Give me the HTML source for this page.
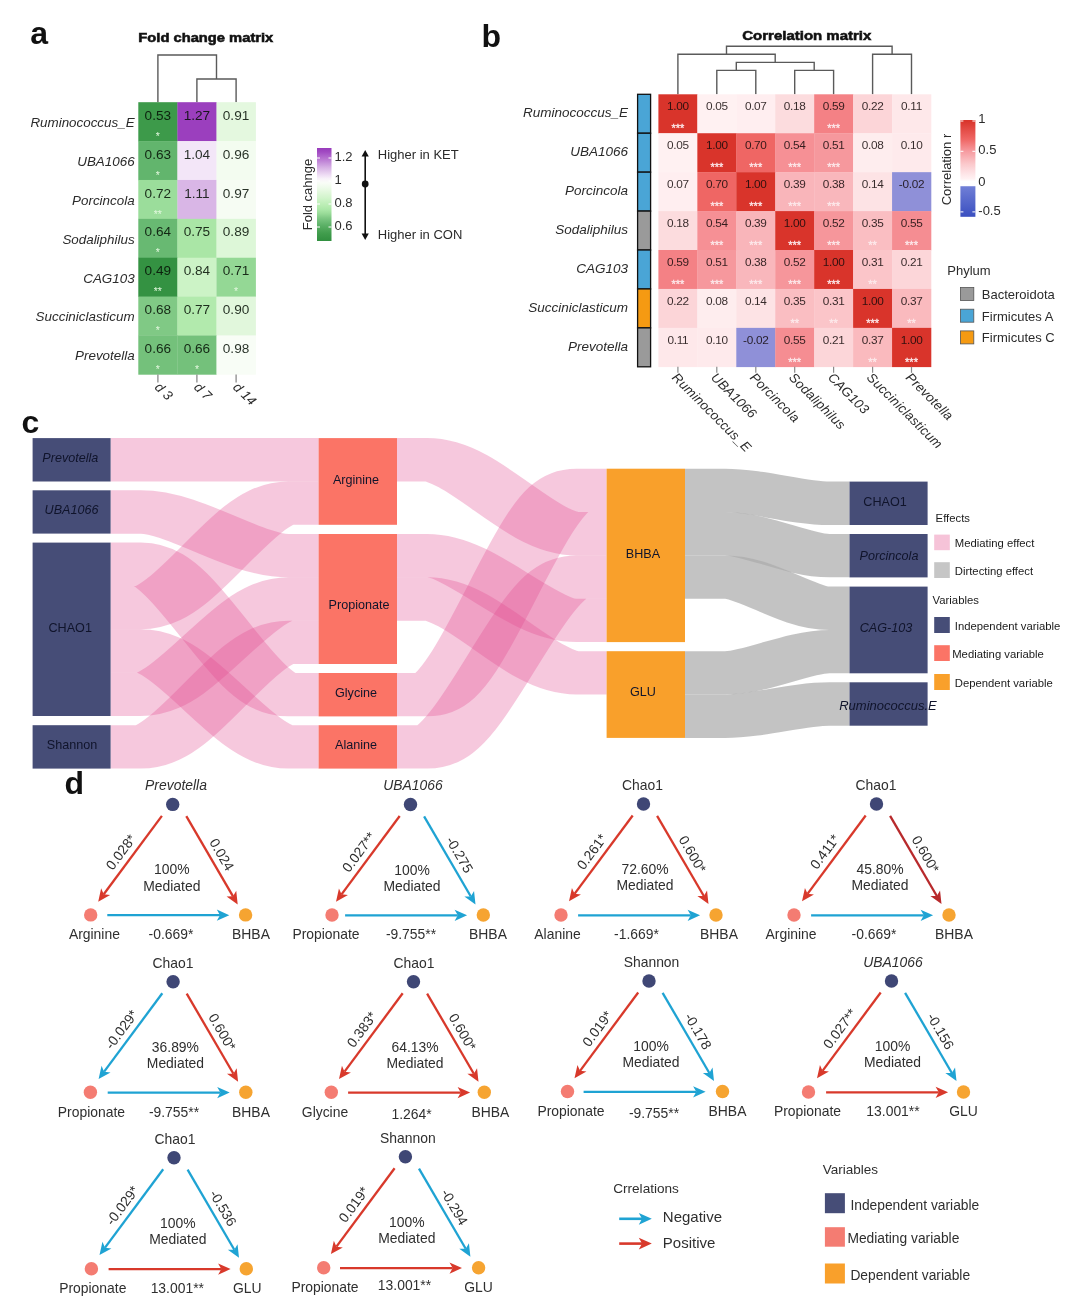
<!DOCTYPE html>
<html lang="en"><head><meta charset="utf-8"><title>Figure</title>
<style>html,body{margin:0;padding:0;background:#fff}svg{display:block}text{font-family:'Liberation Sans', Arial, Helvetica, sans-serif}</style></head><body>
<svg width="1080" height="1303" viewBox="0 0 1080 1303">
<rect width="1080" height="1303" fill="#fff"/>
<path transform="scale(1.66,1)" d="M66.63 459.78 H84.70 C111.45 459.78 147.11 459.78 173.86 459.78 H191.93" fill="none" stroke="rgba(224,72,141,0.30)" stroke-width="43.35"/>
<path transform="scale(1.66,1)" d="M66.63 511.98 H84.70 C111.45 511.98 147.11 555.67 173.86 555.67 H191.93" fill="none" stroke="rgba(224,72,141,0.30)" stroke-width="43.35"/>
<path transform="scale(1.66,1)" d="M66.63 564.28 H84.70 C111.45 564.28 147.11 694.67 173.86 694.67 H191.93" fill="none" stroke="rgba(224,72,141,0.30)" stroke-width="43.35"/>
<path transform="scale(1.66,1)" d="M66.63 607.62 H84.70 C111.45 607.62 147.11 503.13 173.86 503.13 H191.93" fill="none" stroke="rgba(224,72,141,0.30)" stroke-width="43.35"/>
<path transform="scale(1.66,1)" d="M66.63 650.98 H84.70 C111.45 650.98 147.11 746.88 173.86 746.88 H191.93" fill="none" stroke="rgba(224,72,141,0.30)" stroke-width="43.35"/>
<path transform="scale(1.66,1)" d="M66.63 694.33 H84.70 C111.45 694.33 147.11 599.03 173.86 599.03 H191.93" fill="none" stroke="rgba(224,72,141,0.30)" stroke-width="43.35"/>
<path transform="scale(1.66,1)" d="M66.63 746.88 H84.70 C111.45 746.88 147.11 642.38 173.86 642.38 H191.93" fill="none" stroke="rgba(224,72,141,0.30)" stroke-width="43.35"/>
<path transform="scale(1.66,1)" d="M239.16 694.67 H257.23 C284.27 694.67 320.31 490.38 347.35 490.38 H365.42" fill="none" stroke="rgba(224,72,141,0.30)" stroke-width="43.35"/>
<path transform="scale(1.66,1)" d="M239.16 459.78 H257.23 C284.27 459.78 320.31 533.72 347.35 533.72 H365.42" fill="none" stroke="rgba(224,72,141,0.30)" stroke-width="43.35"/>
<path transform="scale(1.66,1)" d="M239.16 746.88 H257.23 C284.27 746.88 320.31 577.08 347.35 577.08 H365.42" fill="none" stroke="rgba(224,72,141,0.30)" stroke-width="43.35"/>
<path transform="scale(1.66,1)" d="M239.16 555.67 H257.23 C284.27 555.67 320.31 620.42 347.35 620.42 H365.42" fill="none" stroke="rgba(224,72,141,0.30)" stroke-width="43.35"/>
<path transform="scale(1.66,1)" d="M239.16 599.03 H257.23 C284.27 599.03 320.31 672.88 347.35 672.88 H365.42" fill="none" stroke="rgba(224,72,141,0.30)" stroke-width="43.35"/>
<path transform="scale(1.66,1)" d="M412.65 490.38 H436.75 C455.63 490.38 480.81 503.28 499.70 503.28 H511.75" fill="none" stroke="rgba(172,172,172,0.72)" stroke-width="43.35"/>
<path transform="scale(1.66,1)" d="M412.65 533.72 H436.75 C455.63 533.72 480.81 555.67 499.70 555.67 H511.75" fill="none" stroke="rgba(172,172,172,0.72)" stroke-width="43.35"/>
<path transform="scale(1.66,1)" d="M412.65 577.08 H436.75 C455.63 577.08 480.81 608.28 499.70 608.28 H511.75" fill="none" stroke="rgba(172,172,172,0.72)" stroke-width="43.35"/>
<path transform="scale(1.66,1)" d="M412.65 672.88 H436.75 C455.63 672.88 480.81 651.62 499.70 651.62 H511.75" fill="none" stroke="rgba(172,172,172,0.72)" stroke-width="43.35"/>
<path transform="scale(1.66,1)" d="M412.65 716.23 H436.75 C455.63 716.23 480.81 703.97 499.70 703.97 H511.75" fill="none" stroke="rgba(172,172,172,0.72)" stroke-width="43.35"/>
<rect x="32.6" y="438.1" width="78.0" height="43.4" fill="#464d77"/>
<text x="70.30" y="462.08" font-size="12.6" text-anchor="middle" font-style="italic" fill="#10142b">Prevotella</text>
<rect x="32.6" y="490.3" width="78.0" height="43.3" fill="#464d77"/>
<text x="71.50" y="514.27" font-size="12.6" text-anchor="middle" font-style="italic" fill="#10142b">UBA1066</text>
<rect x="32.6" y="542.6" width="78.0" height="173.4" fill="#464d77"/>
<text x="70.20" y="631.80" font-size="12.6" text-anchor="middle" fill="#10142b">CHAO1</text>
<rect x="32.6" y="725.2" width="78.0" height="43.4" fill="#464d77"/>
<text x="72.00" y="749.38" font-size="12.6" text-anchor="middle" fill="#10142b">Shannon</text>
<rect x="318.6" y="438.1" width="78.4" height="86.7" fill="#fb7466"/>
<text x="356.00" y="483.75" font-size="12.6" text-anchor="middle" fill="#10142b">Arginine</text>
<rect x="318.6" y="534.0" width="78.4" height="130.0" fill="#fb7466"/>
<text x="359.00" y="608.52" font-size="12.6" text-anchor="middle" fill="#10142b">Propionate</text>
<rect x="318.6" y="673.0" width="78.4" height="43.4" fill="#fb7466"/>
<text x="356.00" y="697.17" font-size="12.6" text-anchor="middle" fill="#10142b">Glycine</text>
<rect x="318.6" y="725.2" width="78.4" height="43.4" fill="#fb7466"/>
<text x="356.00" y="749.38" font-size="12.6" text-anchor="middle" fill="#10142b">Alanine</text>
<rect x="606.6" y="468.7" width="78.4" height="173.4" fill="#f9a02b"/>
<text x="643.00" y="557.90" font-size="12.6" text-anchor="middle" fill="#10142b">BHBA</text>
<rect x="606.6" y="651.2" width="78.4" height="86.7" fill="#f9a02b"/>
<text x="643.00" y="696.05" font-size="12.6" text-anchor="middle" fill="#10142b">GLU</text>
<rect x="849.5" y="481.6" width="78.1" height="43.4" fill="#464d77"/>
<text x="885.00" y="505.78" font-size="12.6" text-anchor="middle" fill="#10142b">CHAO1</text>
<rect x="849.5" y="534.0" width="78.1" height="43.4" fill="#464d77"/>
<text x="889.00" y="560.17" font-size="12.6" text-anchor="middle" font-style="italic" fill="#10142b">Porcincola</text>
<rect x="849.5" y="586.6" width="78.1" height="86.7" fill="#464d77"/>
<text x="886.00" y="632.45" font-size="12.6" text-anchor="middle" font-style="italic" fill="#10142b">CAG-103</text>
<rect x="849.5" y="682.3" width="78.1" height="43.4" fill="#464d77"/>
<text x="888.00" y="709.97" font-size="13" text-anchor="middle" font-style="italic" fill="#10142b">Ruminococcus.E</text>
<text x="935.60" y="521.50" font-size="11.3" text-anchor="start" fill="#1a1a1a">Effects</text>
<rect x="934.2" y="534.6" width="15.6" height="15.6" fill="#f6c3d8"/>
<text x="954.80" y="547.20" font-size="11.3" text-anchor="start" fill="#1a1a1a">Mediating effect</text>
<rect x="934.2" y="562.2" width="15.6" height="15.8" fill="#c6c6c6"/>
<text x="954.80" y="574.60" font-size="11.3" text-anchor="start" fill="#1a1a1a">Dirtecting effect</text>
<text x="932.60" y="603.80" font-size="11.3" text-anchor="start" fill="#1a1a1a">Variables</text>
<rect x="934.2" y="617" width="15.6" height="16" fill="#464d77"/>
<text x="954.80" y="630.20" font-size="11.3" text-anchor="start" fill="#1a1a1a">Independent variable</text>
<rect x="934.2" y="645.2" width="15.6" height="15.8" fill="#fb7466"/>
<text x="952.20" y="657.60" font-size="11.3" text-anchor="start" fill="#1a1a1a">Mediating variable</text>
<rect x="934.2" y="674" width="15.6" height="16" fill="#f9a02b"/>
<text x="954.80" y="687.20" font-size="11.3" text-anchor="start" fill="#1a1a1a">Dependent variable</text>
<text x="205.80" y="41.60" font-size="12.6" text-anchor="middle" font-weight="bold" fill="#111" textLength="135" lengthAdjust="spacingAndGlyphs" stroke="#111" stroke-width="0.55">Fold change matrix</text>
<path d="M157.9 102.2 V55 H216.5 V79 M196.9 102.2 V79 H236.1 V102.2" fill="none" stroke="#5a5a5a" stroke-width="1.4"/>
<rect x="138.30" y="102.20" width="39.40" height="39.19" fill="#3d9a4a"/>
<rect x="177.40" y="102.20" width="39.40" height="39.19" fill="#9b3fbe"/>
<rect x="216.50" y="102.20" width="39.40" height="39.19" fill="#e4f8df"/>
<rect x="138.30" y="141.09" width="39.40" height="39.19" fill="#62b56d"/>
<rect x="177.40" y="141.09" width="39.40" height="39.19" fill="#f3e6f8"/>
<rect x="216.50" y="141.09" width="39.40" height="39.19" fill="#f3fcf0"/>
<rect x="138.30" y="179.97" width="39.40" height="39.19" fill="#9bdd9b"/>
<rect x="177.40" y="179.97" width="39.40" height="39.19" fill="#d9b6e6"/>
<rect x="216.50" y="179.97" width="39.40" height="39.19" fill="#f6fcf3"/>
<rect x="138.30" y="218.86" width="39.40" height="39.19" fill="#68b972"/>
<rect x="177.40" y="218.86" width="39.40" height="39.19" fill="#aae6a6"/>
<rect x="216.50" y="218.86" width="39.40" height="39.19" fill="#ddf7d8"/>
<rect x="138.30" y="257.74" width="39.40" height="39.19" fill="#349242"/>
<rect x="177.40" y="257.74" width="39.40" height="39.19" fill="#ccf3c6"/>
<rect x="216.50" y="257.74" width="39.40" height="39.19" fill="#94d895"/>
<rect x="138.30" y="296.63" width="39.40" height="39.19" fill="#80c985"/>
<rect x="177.40" y="296.63" width="39.40" height="39.19" fill="#b2eaad"/>
<rect x="216.50" y="296.63" width="39.40" height="39.19" fill="#e1f7dc"/>
<rect x="138.30" y="335.51" width="39.40" height="39.19" fill="#74c17b"/>
<rect x="177.40" y="335.51" width="39.40" height="39.19" fill="#74c17b"/>
<rect x="216.50" y="335.51" width="39.40" height="39.19" fill="#f8fdf6"/>
<text x="134.60" y="127.04" font-size="13.4" text-anchor="end" font-style="italic" fill="#2b2b2b">Ruminococcus_E</text>
<text x="157.85" y="119.80" font-size="13.6" text-anchor="middle" fill="rgba(5,15,5,0.86)">0.53</text>
<text x="157.85" y="139.80" font-size="10.5" text-anchor="middle" fill="#e2f8de">*</text>
<text x="196.95" y="119.80" font-size="13.6" text-anchor="middle" fill="rgba(5,15,5,0.86)">1.27</text>
<text x="236.05" y="119.80" font-size="13.6" text-anchor="middle" fill="rgba(5,15,5,0.86)">0.91</text>
<text x="134.60" y="165.93" font-size="13.4" text-anchor="end" font-style="italic" fill="#2b2b2b">UBA1066</text>
<text x="157.85" y="158.69" font-size="13.6" text-anchor="middle" fill="rgba(5,15,5,0.86)">0.63</text>
<text x="157.85" y="178.69" font-size="10.5" text-anchor="middle" fill="#e2f8de">*</text>
<text x="196.95" y="158.69" font-size="13.6" text-anchor="middle" fill="rgba(5,15,5,0.86)">1.04</text>
<text x="236.05" y="158.69" font-size="13.6" text-anchor="middle" fill="rgba(5,15,5,0.86)">0.96</text>
<text x="134.60" y="204.81" font-size="13.4" text-anchor="end" font-style="italic" fill="#2b2b2b">Porcincola</text>
<text x="157.85" y="197.57" font-size="13.6" text-anchor="middle" fill="rgba(5,15,5,0.86)">0.72</text>
<text x="157.85" y="217.57" font-size="10.5" text-anchor="middle" fill="#e2f8de">**</text>
<text x="196.95" y="197.57" font-size="13.6" text-anchor="middle" fill="rgba(5,15,5,0.86)">1.11</text>
<text x="236.05" y="197.57" font-size="13.6" text-anchor="middle" fill="rgba(5,15,5,0.86)">0.97</text>
<text x="134.60" y="243.70" font-size="13.4" text-anchor="end" font-style="italic" fill="#2b2b2b">Sodaliphilus</text>
<text x="157.85" y="236.46" font-size="13.6" text-anchor="middle" fill="rgba(5,15,5,0.86)">0.64</text>
<text x="157.85" y="256.46" font-size="10.5" text-anchor="middle" fill="#e2f8de">*</text>
<text x="196.95" y="236.46" font-size="13.6" text-anchor="middle" fill="rgba(5,15,5,0.86)">0.75</text>
<text x="236.05" y="236.46" font-size="13.6" text-anchor="middle" fill="rgba(5,15,5,0.86)">0.89</text>
<text x="134.60" y="282.59" font-size="13.4" text-anchor="end" font-style="italic" fill="#2b2b2b">CAG103</text>
<text x="157.85" y="275.34" font-size="13.6" text-anchor="middle" fill="rgba(5,15,5,0.86)">0.49</text>
<text x="157.85" y="295.34" font-size="10.5" text-anchor="middle" fill="#e2f8de">**</text>
<text x="196.95" y="275.34" font-size="13.6" text-anchor="middle" fill="rgba(5,15,5,0.86)">0.84</text>
<text x="236.05" y="275.34" font-size="13.6" text-anchor="middle" fill="rgba(5,15,5,0.86)">0.71</text>
<text x="236.05" y="295.34" font-size="10.5" text-anchor="middle" fill="#e2f8de">*</text>
<text x="134.60" y="321.47" font-size="13.4" text-anchor="end" font-style="italic" fill="#2b2b2b">Succiniclasticum</text>
<text x="157.85" y="314.23" font-size="13.6" text-anchor="middle" fill="rgba(5,15,5,0.86)">0.68</text>
<text x="157.85" y="334.23" font-size="10.5" text-anchor="middle" fill="#e2f8de">*</text>
<text x="196.95" y="314.23" font-size="13.6" text-anchor="middle" fill="rgba(5,15,5,0.86)">0.77</text>
<text x="236.05" y="314.23" font-size="13.6" text-anchor="middle" fill="rgba(5,15,5,0.86)">0.90</text>
<text x="134.60" y="360.36" font-size="13.4" text-anchor="end" font-style="italic" fill="#2b2b2b">Prevotella</text>
<text x="157.85" y="353.11" font-size="13.6" text-anchor="middle" fill="rgba(5,15,5,0.86)">0.66</text>
<text x="157.85" y="373.11" font-size="10.5" text-anchor="middle" fill="#e2f8de">*</text>
<text x="196.95" y="353.11" font-size="13.6" text-anchor="middle" fill="rgba(5,15,5,0.86)">0.66</text>
<text x="196.95" y="373.11" font-size="10.5" text-anchor="middle" fill="#e2f8de">*</text>
<text x="236.05" y="353.11" font-size="13.6" text-anchor="middle" fill="rgba(5,15,5,0.86)">0.98</text>
<line x1="157.9" y1="374.4" x2="157.9" y2="382.4" stroke="#8a8a8a" stroke-width="1.3"/>
<text x="154.05" y="387.90" font-size="13.4" text-anchor="start" font-style="italic" fill="#2b2b2b" transform="rotate(45.00 154.05 387.90)">d 3</text>
<line x1="196.9" y1="374.4" x2="196.9" y2="382.4" stroke="#8a8a8a" stroke-width="1.3"/>
<text x="193.15" y="387.90" font-size="13.4" text-anchor="start" font-style="italic" fill="#2b2b2b" transform="rotate(45.00 193.15 387.90)">d 7</text>
<line x1="236.1" y1="374.4" x2="236.1" y2="382.4" stroke="#8a8a8a" stroke-width="1.3"/>
<text x="232.25" y="387.90" font-size="13.4" text-anchor="start" font-style="italic" fill="#2b2b2b" transform="rotate(45.00 232.25 387.90)">d 14</text>
<defs><linearGradient id="ga" x1="0" y1="0" x2="0" y2="1">
<stop offset="0.000" stop-color="#983bbc"/>
<stop offset="0.042" stop-color="#a14ac2"/>
<stop offset="0.083" stop-color="#ae62cb"/>
<stop offset="0.125" stop-color="#bb7ad3"/>
<stop offset="0.167" stop-color="#c895dc"/>
<stop offset="0.208" stop-color="#d6afe4"/>
<stop offset="0.250" stop-color="#e2c7ec"/>
<stop offset="0.292" stop-color="#efdef5"/>
<stop offset="0.333" stop-color="#f9f4fa"/>
<stop offset="0.375" stop-color="#f9fdf7"/>
<stop offset="0.417" stop-color="#f0fbed"/>
<stop offset="0.458" stop-color="#e6f9e1"/>
<stop offset="0.500" stop-color="#dbf6d5"/>
<stop offset="0.542" stop-color="#d0f4ca"/>
<stop offset="0.583" stop-color="#c3f0bd"/>
<stop offset="0.625" stop-color="#b7ecb1"/>
<stop offset="0.667" stop-color="#a9e6a6"/>
<stop offset="0.708" stop-color="#97da97"/>
<stop offset="0.750" stop-color="#80c985"/>
<stop offset="0.792" stop-color="#6cbc75"/>
<stop offset="0.833" stop-color="#5bb066"/>
<stop offset="0.875" stop-color="#4ea659"/>
<stop offset="0.917" stop-color="#419d4d"/>
<stop offset="0.958" stop-color="#399646"/>
<stop offset="1.000" stop-color="#319040"/>
</linearGradient></defs>
<rect x="317" y="148.0" width="14.5" height="93.0" fill="url(#ga)"/>
<path d="M317 158.0 h3 M331.5 158.0 h-3" stroke="#fff" stroke-width="1"/>
<text x="334.50" y="160.90" font-size="13" text-anchor="start" fill="#2b2b2b">1.2</text>
<path d="M317 181.0 h3 M331.5 181.0 h-3" stroke="#fff" stroke-width="1"/>
<text x="334.50" y="183.90" font-size="13" text-anchor="start" fill="#2b2b2b">1</text>
<path d="M317 204.0 h3 M331.5 204.0 h-3" stroke="#fff" stroke-width="1"/>
<text x="334.50" y="206.90" font-size="13" text-anchor="start" fill="#2b2b2b">0.8</text>
<path d="M317 227.0 h3 M331.5 227.0 h-3" stroke="#fff" stroke-width="1"/>
<text x="334.50" y="229.90" font-size="13" text-anchor="start" fill="#2b2b2b">0.6</text>
<text x="311.50" y="194.50" font-size="13" text-anchor="middle" fill="#2b2b2b" transform="rotate(-90.00 311.50 194.50)">Fold cahnge</text>
<line x1="365.2" y1="154" x2="365.2" y2="236" stroke="#111" stroke-width="1.6"/>
<path d="M365.2 150 l-3.6 6.5 h7.2 z M365.2 240 l-3.6 -6.5 h7.2 z" fill="#111"/>
<circle cx="365.2" cy="184" r="3.4" fill="#111"/>
<text x="377.80" y="159.30" font-size="13" text-anchor="start" fill="#2b2b2b">Higher in KET</text>
<text x="377.80" y="239.20" font-size="13" text-anchor="start" fill="#2b2b2b">Higher in CON</text>
<text x="806.80" y="40.20" font-size="12.6" text-anchor="middle" font-weight="bold" fill="#111" textLength="129" lengthAdjust="spacingAndGlyphs" stroke="#111" stroke-width="0.55">Correlation matrix</text>
<path d="M716.8 94.3 V70.4 H755.8 V94.3 M794.7 94.3 V70.4 H833.6 V94.3 M736.3 70.4 V62.4 H814.2 V70.4 M677.9 94.3 V54.2 H775.2 V62.4 M872.6 94.3 V54.2 H911.5 V94.3 M726.5 54.2 V46.2 H892.1 V54.2" fill="none" stroke="#5a5a5a" stroke-width="1.4"/>
<rect x="658.40" y="94.30" width="39.24" height="39.23" fill="#d9342b"/>
<rect x="697.34" y="94.30" width="39.24" height="39.23" fill="#fff1f2"/>
<rect x="736.29" y="94.30" width="39.24" height="39.23" fill="#ffeef0"/>
<rect x="775.23" y="94.30" width="39.24" height="39.23" fill="#fcdcde"/>
<rect x="814.17" y="94.30" width="39.24" height="39.23" fill="#f48185"/>
<rect x="853.11" y="94.30" width="39.24" height="39.23" fill="#fcd5d8"/>
<rect x="892.06" y="94.30" width="39.24" height="39.23" fill="#fee8ea"/>
<rect x="658.40" y="133.23" width="39.24" height="39.23" fill="#fff1f2"/>
<rect x="697.34" y="133.23" width="39.24" height="39.23" fill="#d9342b"/>
<rect x="736.29" y="133.23" width="39.24" height="39.23" fill="#ef6664"/>
<rect x="775.23" y="133.23" width="39.24" height="39.23" fill="#f69095"/>
<rect x="814.17" y="133.23" width="39.24" height="39.23" fill="#f6989d"/>
<rect x="853.11" y="133.23" width="39.24" height="39.23" fill="#feedee"/>
<rect x="892.06" y="133.23" width="39.24" height="39.23" fill="#feeaec"/>
<rect x="658.40" y="172.16" width="39.24" height="39.23" fill="#ffeef0"/>
<rect x="697.34" y="172.16" width="39.24" height="39.23" fill="#ef6664"/>
<rect x="736.29" y="172.16" width="39.24" height="39.23" fill="#d9342b"/>
<rect x="775.23" y="172.16" width="39.24" height="39.23" fill="#f9b5ba"/>
<rect x="814.17" y="172.16" width="39.24" height="39.23" fill="#f9b7bc"/>
<rect x="853.11" y="172.16" width="39.24" height="39.23" fill="#fde3e5"/>
<rect x="892.06" y="172.16" width="39.24" height="39.23" fill="#8f90d8"/>
<rect x="658.40" y="211.09" width="39.24" height="39.23" fill="#fcdcde"/>
<rect x="697.34" y="211.09" width="39.24" height="39.23" fill="#f69095"/>
<rect x="736.29" y="211.09" width="39.24" height="39.23" fill="#f9b5ba"/>
<rect x="775.23" y="211.09" width="39.24" height="39.23" fill="#d9342b"/>
<rect x="814.17" y="211.09" width="39.24" height="39.23" fill="#f6969b"/>
<rect x="853.11" y="211.09" width="39.24" height="39.23" fill="#fabec2"/>
<rect x="892.06" y="211.09" width="39.24" height="39.23" fill="#f58d92"/>
<rect x="658.40" y="250.01" width="39.24" height="39.23" fill="#f48185"/>
<rect x="697.34" y="250.01" width="39.24" height="39.23" fill="#f6989d"/>
<rect x="736.29" y="250.01" width="39.24" height="39.23" fill="#f9b7bc"/>
<rect x="775.23" y="250.01" width="39.24" height="39.23" fill="#f6969b"/>
<rect x="814.17" y="250.01" width="39.24" height="39.23" fill="#d9342b"/>
<rect x="853.11" y="250.01" width="39.24" height="39.23" fill="#fbc5c9"/>
<rect x="892.06" y="250.01" width="39.24" height="39.23" fill="#fcd6d9"/>
<rect x="658.40" y="288.94" width="39.24" height="39.23" fill="#fcd5d8"/>
<rect x="697.34" y="288.94" width="39.24" height="39.23" fill="#feedee"/>
<rect x="736.29" y="288.94" width="39.24" height="39.23" fill="#fde3e5"/>
<rect x="775.23" y="288.94" width="39.24" height="39.23" fill="#fabec2"/>
<rect x="814.17" y="288.94" width="39.24" height="39.23" fill="#fbc5c9"/>
<rect x="853.11" y="288.94" width="39.24" height="39.23" fill="#d9342b"/>
<rect x="892.06" y="288.94" width="39.24" height="39.23" fill="#fababe"/>
<rect x="658.40" y="327.87" width="39.24" height="39.23" fill="#fee8ea"/>
<rect x="697.34" y="327.87" width="39.24" height="39.23" fill="#feeaec"/>
<rect x="736.29" y="327.87" width="39.24" height="39.23" fill="#8f90d8"/>
<rect x="775.23" y="327.87" width="39.24" height="39.23" fill="#f58d92"/>
<rect x="814.17" y="327.87" width="39.24" height="39.23" fill="#fcd6d9"/>
<rect x="853.11" y="327.87" width="39.24" height="39.23" fill="#fababe"/>
<rect x="892.06" y="327.87" width="39.24" height="39.23" fill="#d9342b"/>
<rect x="637.6" y="94.30" width="13" height="38.93" fill="#4aa5d6" stroke="#111" stroke-width="1.3"/>
<text x="628.00" y="117.36" font-size="13.5" text-anchor="end" font-style="italic" fill="#2b2b2b">Ruminococcus_E</text>
<text x="677.87" y="110.10" font-size="11.8" text-anchor="middle" fill="rgba(20,10,10,0.85)" letter-spacing="-0.3">1.00</text>
<text x="677.87" y="132.30" font-size="11" text-anchor="middle" fill="#fdeaec" stroke="#fdeaec" stroke-width="0.3">***</text>
<text x="716.81" y="110.10" font-size="11.8" text-anchor="middle" fill="rgba(20,10,10,0.85)" letter-spacing="-0.3">0.05</text>
<text x="755.76" y="110.10" font-size="11.8" text-anchor="middle" fill="rgba(20,10,10,0.85)" letter-spacing="-0.3">0.07</text>
<text x="794.70" y="110.10" font-size="11.8" text-anchor="middle" fill="rgba(20,10,10,0.85)" letter-spacing="-0.3">0.18</text>
<text x="833.64" y="110.10" font-size="11.8" text-anchor="middle" fill="rgba(20,10,10,0.85)" letter-spacing="-0.3">0.59</text>
<text x="833.64" y="132.30" font-size="11" text-anchor="middle" fill="#fdeaec" stroke="#fdeaec" stroke-width="0.3">***</text>
<text x="872.59" y="110.10" font-size="11.8" text-anchor="middle" fill="rgba(20,10,10,0.85)" letter-spacing="-0.3">0.22</text>
<text x="911.53" y="110.10" font-size="11.8" text-anchor="middle" fill="rgba(20,10,10,0.85)" letter-spacing="-0.3">0.11</text>
<rect x="637.6" y="133.23" width="13" height="38.93" fill="#4aa5d6" stroke="#111" stroke-width="1.3"/>
<text x="628.00" y="156.29" font-size="13.5" text-anchor="end" font-style="italic" fill="#2b2b2b">UBA1066</text>
<text x="677.87" y="149.03" font-size="11.8" text-anchor="middle" fill="rgba(20,10,10,0.85)" letter-spacing="-0.3">0.05</text>
<text x="716.81" y="149.03" font-size="11.8" text-anchor="middle" fill="rgba(20,10,10,0.85)" letter-spacing="-0.3">1.00</text>
<text x="716.81" y="171.23" font-size="11" text-anchor="middle" fill="#fdeaec" stroke="#fdeaec" stroke-width="0.3">***</text>
<text x="755.76" y="149.03" font-size="11.8" text-anchor="middle" fill="rgba(20,10,10,0.85)" letter-spacing="-0.3">0.70</text>
<text x="755.76" y="171.23" font-size="11" text-anchor="middle" fill="#fdeaec" stroke="#fdeaec" stroke-width="0.3">***</text>
<text x="794.70" y="149.03" font-size="11.8" text-anchor="middle" fill="rgba(20,10,10,0.85)" letter-spacing="-0.3">0.54</text>
<text x="794.70" y="171.23" font-size="11" text-anchor="middle" fill="#fdeaec" stroke="#fdeaec" stroke-width="0.3">***</text>
<text x="833.64" y="149.03" font-size="11.8" text-anchor="middle" fill="rgba(20,10,10,0.85)" letter-spacing="-0.3">0.51</text>
<text x="833.64" y="171.23" font-size="11" text-anchor="middle" fill="#fdeaec" stroke="#fdeaec" stroke-width="0.3">***</text>
<text x="872.59" y="149.03" font-size="11.8" text-anchor="middle" fill="rgba(20,10,10,0.85)" letter-spacing="-0.3">0.08</text>
<text x="911.53" y="149.03" font-size="11.8" text-anchor="middle" fill="rgba(20,10,10,0.85)" letter-spacing="-0.3">0.10</text>
<rect x="637.6" y="172.16" width="13" height="38.93" fill="#4aa5d6" stroke="#111" stroke-width="1.3"/>
<text x="628.00" y="195.22" font-size="13.5" text-anchor="end" font-style="italic" fill="#2b2b2b">Porcincola</text>
<text x="677.87" y="187.96" font-size="11.8" text-anchor="middle" fill="rgba(20,10,10,0.85)" letter-spacing="-0.3">0.07</text>
<text x="716.81" y="187.96" font-size="11.8" text-anchor="middle" fill="rgba(20,10,10,0.85)" letter-spacing="-0.3">0.70</text>
<text x="716.81" y="210.16" font-size="11" text-anchor="middle" fill="#fdeaec" stroke="#fdeaec" stroke-width="0.3">***</text>
<text x="755.76" y="187.96" font-size="11.8" text-anchor="middle" fill="rgba(20,10,10,0.85)" letter-spacing="-0.3">1.00</text>
<text x="755.76" y="210.16" font-size="11" text-anchor="middle" fill="#fdeaec" stroke="#fdeaec" stroke-width="0.3">***</text>
<text x="794.70" y="187.96" font-size="11.8" text-anchor="middle" fill="rgba(20,10,10,0.85)" letter-spacing="-0.3">0.39</text>
<text x="794.70" y="210.16" font-size="11" text-anchor="middle" fill="#fdeaec" stroke="#fdeaec" stroke-width="0.3">***</text>
<text x="833.64" y="187.96" font-size="11.8" text-anchor="middle" fill="rgba(20,10,10,0.85)" letter-spacing="-0.3">0.38</text>
<text x="833.64" y="210.16" font-size="11" text-anchor="middle" fill="#fdeaec" stroke="#fdeaec" stroke-width="0.3">***</text>
<text x="872.59" y="187.96" font-size="11.8" text-anchor="middle" fill="rgba(20,10,10,0.85)" letter-spacing="-0.3">0.14</text>
<text x="911.53" y="187.96" font-size="11.8" text-anchor="middle" fill="rgba(20,10,10,0.85)" letter-spacing="-0.3">-0.02</text>
<rect x="637.6" y="211.09" width="13" height="38.93" fill="#9a9a9a" stroke="#111" stroke-width="1.3"/>
<text x="628.00" y="234.15" font-size="13.5" text-anchor="end" font-style="italic" fill="#2b2b2b">Sodaliphilus</text>
<text x="677.87" y="226.89" font-size="11.8" text-anchor="middle" fill="rgba(20,10,10,0.85)" letter-spacing="-0.3">0.18</text>
<text x="716.81" y="226.89" font-size="11.8" text-anchor="middle" fill="rgba(20,10,10,0.85)" letter-spacing="-0.3">0.54</text>
<text x="716.81" y="249.09" font-size="11" text-anchor="middle" fill="#fdeaec" stroke="#fdeaec" stroke-width="0.3">***</text>
<text x="755.76" y="226.89" font-size="11.8" text-anchor="middle" fill="rgba(20,10,10,0.85)" letter-spacing="-0.3">0.39</text>
<text x="755.76" y="249.09" font-size="11" text-anchor="middle" fill="#fdeaec" stroke="#fdeaec" stroke-width="0.3">***</text>
<text x="794.70" y="226.89" font-size="11.8" text-anchor="middle" fill="rgba(20,10,10,0.85)" letter-spacing="-0.3">1.00</text>
<text x="794.70" y="249.09" font-size="11" text-anchor="middle" fill="#fdeaec" stroke="#fdeaec" stroke-width="0.3">***</text>
<text x="833.64" y="226.89" font-size="11.8" text-anchor="middle" fill="rgba(20,10,10,0.85)" letter-spacing="-0.3">0.52</text>
<text x="833.64" y="249.09" font-size="11" text-anchor="middle" fill="#fdeaec" stroke="#fdeaec" stroke-width="0.3">***</text>
<text x="872.59" y="226.89" font-size="11.8" text-anchor="middle" fill="rgba(20,10,10,0.85)" letter-spacing="-0.3">0.35</text>
<text x="872.59" y="249.09" font-size="11" text-anchor="middle" fill="#fdeaec" stroke="#fdeaec" stroke-width="0.3">**</text>
<text x="911.53" y="226.89" font-size="11.8" text-anchor="middle" fill="rgba(20,10,10,0.85)" letter-spacing="-0.3">0.55</text>
<text x="911.53" y="249.09" font-size="11" text-anchor="middle" fill="#fdeaec" stroke="#fdeaec" stroke-width="0.3">***</text>
<rect x="637.6" y="250.01" width="13" height="38.93" fill="#4aa5d6" stroke="#111" stroke-width="1.3"/>
<text x="628.00" y="273.08" font-size="13.5" text-anchor="end" font-style="italic" fill="#2b2b2b">CAG103</text>
<text x="677.87" y="265.81" font-size="11.8" text-anchor="middle" fill="rgba(20,10,10,0.85)" letter-spacing="-0.3">0.59</text>
<text x="677.87" y="288.01" font-size="11" text-anchor="middle" fill="#fdeaec" stroke="#fdeaec" stroke-width="0.3">***</text>
<text x="716.81" y="265.81" font-size="11.8" text-anchor="middle" fill="rgba(20,10,10,0.85)" letter-spacing="-0.3">0.51</text>
<text x="716.81" y="288.01" font-size="11" text-anchor="middle" fill="#fdeaec" stroke="#fdeaec" stroke-width="0.3">***</text>
<text x="755.76" y="265.81" font-size="11.8" text-anchor="middle" fill="rgba(20,10,10,0.85)" letter-spacing="-0.3">0.38</text>
<text x="755.76" y="288.01" font-size="11" text-anchor="middle" fill="#fdeaec" stroke="#fdeaec" stroke-width="0.3">***</text>
<text x="794.70" y="265.81" font-size="11.8" text-anchor="middle" fill="rgba(20,10,10,0.85)" letter-spacing="-0.3">0.52</text>
<text x="794.70" y="288.01" font-size="11" text-anchor="middle" fill="#fdeaec" stroke="#fdeaec" stroke-width="0.3">***</text>
<text x="833.64" y="265.81" font-size="11.8" text-anchor="middle" fill="rgba(20,10,10,0.85)" letter-spacing="-0.3">1.00</text>
<text x="833.64" y="288.01" font-size="11" text-anchor="middle" fill="#fdeaec" stroke="#fdeaec" stroke-width="0.3">***</text>
<text x="872.59" y="265.81" font-size="11.8" text-anchor="middle" fill="rgba(20,10,10,0.85)" letter-spacing="-0.3">0.31</text>
<text x="872.59" y="288.01" font-size="11" text-anchor="middle" fill="#fdeaec" stroke="#fdeaec" stroke-width="0.3">**</text>
<text x="911.53" y="265.81" font-size="11.8" text-anchor="middle" fill="rgba(20,10,10,0.85)" letter-spacing="-0.3">0.21</text>
<rect x="637.6" y="288.94" width="13" height="38.93" fill="#f59a12" stroke="#111" stroke-width="1.3"/>
<text x="628.00" y="312.01" font-size="13.5" text-anchor="end" font-style="italic" fill="#2b2b2b">Succiniclasticum</text>
<text x="677.87" y="304.74" font-size="11.8" text-anchor="middle" fill="rgba(20,10,10,0.85)" letter-spacing="-0.3">0.22</text>
<text x="716.81" y="304.74" font-size="11.8" text-anchor="middle" fill="rgba(20,10,10,0.85)" letter-spacing="-0.3">0.08</text>
<text x="755.76" y="304.74" font-size="11.8" text-anchor="middle" fill="rgba(20,10,10,0.85)" letter-spacing="-0.3">0.14</text>
<text x="794.70" y="304.74" font-size="11.8" text-anchor="middle" fill="rgba(20,10,10,0.85)" letter-spacing="-0.3">0.35</text>
<text x="794.70" y="326.94" font-size="11" text-anchor="middle" fill="#fdeaec" stroke="#fdeaec" stroke-width="0.3">**</text>
<text x="833.64" y="304.74" font-size="11.8" text-anchor="middle" fill="rgba(20,10,10,0.85)" letter-spacing="-0.3">0.31</text>
<text x="833.64" y="326.94" font-size="11" text-anchor="middle" fill="#fdeaec" stroke="#fdeaec" stroke-width="0.3">**</text>
<text x="872.59" y="304.74" font-size="11.8" text-anchor="middle" fill="rgba(20,10,10,0.85)" letter-spacing="-0.3">1.00</text>
<text x="872.59" y="326.94" font-size="11" text-anchor="middle" fill="#fdeaec" stroke="#fdeaec" stroke-width="0.3">***</text>
<text x="911.53" y="304.74" font-size="11.8" text-anchor="middle" fill="rgba(20,10,10,0.85)" letter-spacing="-0.3">0.37</text>
<text x="911.53" y="326.94" font-size="11" text-anchor="middle" fill="#fdeaec" stroke="#fdeaec" stroke-width="0.3">**</text>
<rect x="637.6" y="327.87" width="13" height="38.93" fill="#9a9a9a" stroke="#111" stroke-width="1.3"/>
<text x="628.00" y="350.94" font-size="13.5" text-anchor="end" font-style="italic" fill="#2b2b2b">Prevotella</text>
<text x="677.87" y="343.67" font-size="11.8" text-anchor="middle" fill="rgba(20,10,10,0.85)" letter-spacing="-0.3">0.11</text>
<text x="716.81" y="343.67" font-size="11.8" text-anchor="middle" fill="rgba(20,10,10,0.85)" letter-spacing="-0.3">0.10</text>
<text x="755.76" y="343.67" font-size="11.8" text-anchor="middle" fill="rgba(20,10,10,0.85)" letter-spacing="-0.3">-0.02</text>
<text x="794.70" y="343.67" font-size="11.8" text-anchor="middle" fill="rgba(20,10,10,0.85)" letter-spacing="-0.3">0.55</text>
<text x="794.70" y="365.87" font-size="11" text-anchor="middle" fill="#fdeaec" stroke="#fdeaec" stroke-width="0.3">***</text>
<text x="833.64" y="343.67" font-size="11.8" text-anchor="middle" fill="rgba(20,10,10,0.85)" letter-spacing="-0.3">0.21</text>
<text x="872.59" y="343.67" font-size="11.8" text-anchor="middle" fill="rgba(20,10,10,0.85)" letter-spacing="-0.3">0.37</text>
<text x="872.59" y="365.87" font-size="11" text-anchor="middle" fill="#fdeaec" stroke="#fdeaec" stroke-width="0.3">**</text>
<text x="911.53" y="343.67" font-size="11.8" text-anchor="middle" fill="rgba(20,10,10,0.85)" letter-spacing="-0.3">1.00</text>
<text x="911.53" y="365.87" font-size="11" text-anchor="middle" fill="#fdeaec" stroke="#fdeaec" stroke-width="0.3">***</text>
<line x1="677.9" y1="366.8" x2="677.9" y2="372.8" stroke="#8a8a8a" stroke-width="1.2"/>
<text x="671.37" y="378.30" font-size="13.2" text-anchor="start" font-style="italic" fill="#2b2b2b" transform="rotate(45.00 671.37 378.30)" letter-spacing="0.2">Ruminococcus_E</text>
<line x1="716.8" y1="366.8" x2="716.8" y2="372.8" stroke="#8a8a8a" stroke-width="1.2"/>
<text x="710.31" y="378.30" font-size="13.2" text-anchor="start" font-style="italic" fill="#2b2b2b" transform="rotate(45.00 710.31 378.30)" letter-spacing="0.2">UBA1066</text>
<line x1="755.8" y1="366.8" x2="755.8" y2="372.8" stroke="#8a8a8a" stroke-width="1.2"/>
<text x="749.26" y="378.30" font-size="13.2" text-anchor="start" font-style="italic" fill="#2b2b2b" transform="rotate(45.00 749.26 378.30)" letter-spacing="0.2">Porcincola</text>
<line x1="794.7" y1="366.8" x2="794.7" y2="372.8" stroke="#8a8a8a" stroke-width="1.2"/>
<text x="788.20" y="378.30" font-size="13.2" text-anchor="start" font-style="italic" fill="#2b2b2b" transform="rotate(45.00 788.20 378.30)" letter-spacing="0.2">Sodaliphilus</text>
<line x1="833.6" y1="366.8" x2="833.6" y2="372.8" stroke="#8a8a8a" stroke-width="1.2"/>
<text x="827.14" y="378.30" font-size="13.2" text-anchor="start" font-style="italic" fill="#2b2b2b" transform="rotate(45.00 827.14 378.30)" letter-spacing="0.2">CAG103</text>
<line x1="872.6" y1="366.8" x2="872.6" y2="372.8" stroke="#8a8a8a" stroke-width="1.2"/>
<text x="866.09" y="378.30" font-size="13.2" text-anchor="start" font-style="italic" fill="#2b2b2b" transform="rotate(45.00 866.09 378.30)" letter-spacing="0.2">Succiniclasticum</text>
<line x1="911.5" y1="366.8" x2="911.5" y2="372.8" stroke="#8a8a8a" stroke-width="1.2"/>
<text x="905.03" y="378.30" font-size="13.2" text-anchor="start" font-style="italic" fill="#2b2b2b" transform="rotate(45.00 905.03 378.30)" letter-spacing="0.2">Prevotella</text>
<defs><linearGradient id="gb" x1="0" y1="0" x2="0" y2="1">
<stop offset="0.0103" stop-color="#d9342b"/>
<stop offset="0.1981" stop-color="#ef6664"/>
<stop offset="0.3233" stop-color="#f69ba0"/>
<stop offset="0.4486" stop-color="#fbc7ca"/>
<stop offset="0.5425" stop-color="#fde1e4"/>
<stop offset="0.6051" stop-color="#fff1f2"/>
<stop offset="0.6364" stop-color="#ffffff"/>
<stop offset="0.6777" stop-color="#fdfdff"/>
<stop offset="0.6897" stop-color="#6f7ed6"/>
<stop offset="1" stop-color="#3a4fc0"/>
</linearGradient></defs>
<rect x="960.4" y="120.0" width="15" height="96.80000000000001" fill="url(#gb)"/>
<path d="M960.4 121.0 h3 M975.4 121.0 h-3" stroke="#fff" stroke-width="1"/>
<text x="978.30" y="123.00" font-size="13" text-anchor="start" fill="#2b2b2b">1</text>
<path d="M960.4 151.3 h3 M975.4 151.3 h-3" stroke="#fff" stroke-width="1"/>
<text x="978.30" y="154.30" font-size="13" text-anchor="start" fill="#2b2b2b">0.5</text>
<path d="M960.4 181.6 h3 M975.4 181.6 h-3" stroke="#fff" stroke-width="1"/>
<text x="978.30" y="186.20" font-size="13" text-anchor="start" fill="#2b2b2b">0</text>
<path d="M960.4 211.9 h3 M975.4 211.9 h-3" stroke="#fff" stroke-width="1"/>
<text x="978.30" y="214.90" font-size="13" text-anchor="start" fill="#2b2b2b">-0.5</text>
<text x="951.00" y="169.50" font-size="13" text-anchor="middle" fill="#2b2b2b" transform="rotate(-90.00 951.00 169.50)">Correlation r</text>
<text x="947.30" y="275.20" font-size="13" text-anchor="start" fill="#2b2b2b">Phylum</text>
<rect x="960.4" y="287.5" width="13.4" height="13" fill="#9a9a9a" stroke="#555" stroke-width="0.8"/>
<text x="981.80" y="298.80" font-size="13" text-anchor="start" fill="#2b2b2b">Bacteroidota</text>
<rect x="960.4" y="309.2" width="13.4" height="13" fill="#4aa5d6" stroke="#555" stroke-width="0.8"/>
<text x="981.80" y="320.50" font-size="13" text-anchor="start" fill="#2b2b2b">Firmicutes A</text>
<rect x="960.4" y="330.9" width="13.4" height="13" fill="#f59a12" stroke="#555" stroke-width="0.8"/>
<text x="981.80" y="342.20" font-size="13" text-anchor="start" fill="#2b2b2b">Firmicutes C</text>
<line x1="161.90" y1="815.90" x2="103.74" y2="894.23" stroke="#d8392b" stroke-width="2.3"/>
<path d="M98.20 901.70 L101.15 888.33 L103.74 894.23 L110.15 895.00 Z" fill="#d8392b"/>
<line x1="186.30" y1="816.20" x2="233.02" y2="896.36" stroke="#d8392b" stroke-width="2.3"/>
<path d="M237.70 904.40 L226.57 896.42 L233.02 896.36 L236.24 890.78 Z" fill="#d8392b"/>
<line x1="107.30" y1="915.20" x2="220.00" y2="915.20" stroke="#1fa3d3" stroke-width="2.3"/>
<path d="M229.30 915.20 L216.80 920.80 L220.00 915.20 L216.80 909.60 Z" fill="#1fa3d3"/>
<circle cx="172.7" cy="804.4" r="6.7" fill="#3f4775"/>
<circle cx="90.7" cy="914.9" r="6.7" fill="#f47c72"/>
<circle cx="245.6" cy="914.9" r="6.7" fill="#f6a431"/>
<text x="176.00" y="790.20" font-size="13.9" text-anchor="middle" font-style="italic" fill="#2f2f2f">Prevotella</text>
<text x="171.80" y="874.40" font-size="13.9" text-anchor="middle" fill="#2f2f2f">100%</text>
<text x="171.80" y="890.80" font-size="13.9" text-anchor="middle" fill="#2f2f2f">Mediated</text>
<text x="94.40" y="939.30" font-size="13.9" text-anchor="middle" fill="#2f2f2f">Arginine</text>
<text x="171.00" y="939.30" font-size="13.9" text-anchor="middle" fill="#2f2f2f">-0.669*</text>
<text x="251.00" y="939.30" font-size="13.9" text-anchor="middle" fill="#2f2f2f">BHBA</text>
<text x="124.83" y="854.93" font-size="13.9" text-anchor="middle" fill="#2f2f2f" transform="rotate(-53.41 124.83 854.93)">0.028*</text>
<text x="217.62" y="857.03" font-size="13.9" text-anchor="middle" fill="#2f2f2f" transform="rotate(59.77 217.62 857.03)">0.024</text>
<line x1="399.70" y1="816.00" x2="341.54" y2="894.33" stroke="#d8392b" stroke-width="2.3"/>
<path d="M336.00 901.80 L338.95 888.43 L341.54 894.33 L347.95 895.10 Z" fill="#d8392b"/>
<line x1="424.10" y1="816.30" x2="470.82" y2="896.46" stroke="#1fa3d3" stroke-width="2.3"/>
<path d="M475.50 904.50 L464.37 896.52 L470.82 896.46 L474.04 890.88 Z" fill="#1fa3d3"/>
<line x1="345.10" y1="915.30" x2="457.80" y2="915.30" stroke="#1fa3d3" stroke-width="2.3"/>
<path d="M467.10 915.30 L454.60 920.90 L457.80 915.30 L454.60 909.70 Z" fill="#1fa3d3"/>
<circle cx="410.5" cy="804.5" r="6.7" fill="#3f4775"/>
<circle cx="332.0" cy="915.0" r="6.7" fill="#f47c72"/>
<circle cx="483.3" cy="915.0" r="6.7" fill="#f6a431"/>
<text x="413.00" y="790.30" font-size="13.9" text-anchor="middle" font-style="italic" fill="#2f2f2f">UBA1066</text>
<text x="412.00" y="874.50" font-size="13.9" text-anchor="middle" fill="#2f2f2f">100%</text>
<text x="412.00" y="890.90" font-size="13.9" text-anchor="middle" fill="#2f2f2f">Mediated</text>
<text x="326.00" y="939.40" font-size="13.9" text-anchor="middle" fill="#2f2f2f">Propionate</text>
<text x="411.00" y="939.40" font-size="13.9" text-anchor="middle" fill="#2f2f2f">-9.755**</text>
<text x="488.00" y="939.40" font-size="13.9" text-anchor="middle" fill="#2f2f2f">BHBA</text>
<text x="362.63" y="855.03" font-size="13.9" text-anchor="middle" fill="#2f2f2f" transform="rotate(-53.41 362.63 855.03)">0.027**</text>
<text x="455.42" y="857.13" font-size="13.9" text-anchor="middle" fill="#2f2f2f" transform="rotate(59.77 455.42 857.13)">-0.275</text>
<line x1="632.70" y1="815.50" x2="574.54" y2="893.83" stroke="#d8392b" stroke-width="2.3"/>
<path d="M569.00 901.30 L571.95 887.93 L574.54 893.83 L580.95 894.60 Z" fill="#d8392b"/>
<line x1="657.10" y1="815.80" x2="703.82" y2="895.96" stroke="#d8392b" stroke-width="2.3"/>
<path d="M708.50 904.00 L697.37 896.02 L703.82 895.96 L707.04 890.38 Z" fill="#d8392b"/>
<line x1="578.10" y1="915.30" x2="690.80" y2="915.30" stroke="#1fa3d3" stroke-width="2.3"/>
<path d="M700.10 915.30 L687.60 920.90 L690.80 915.30 L687.60 909.70 Z" fill="#1fa3d3"/>
<circle cx="643.5" cy="804.0" r="6.7" fill="#3f4775"/>
<circle cx="561.0" cy="915.0" r="6.7" fill="#f47c72"/>
<circle cx="716.0" cy="915.0" r="6.7" fill="#f6a431"/>
<text x="642.50" y="789.80" font-size="13.9" text-anchor="middle" fill="#2f2f2f">Chao1</text>
<text x="645.00" y="874.00" font-size="13.9" text-anchor="middle" fill="#2f2f2f">72.60%</text>
<text x="645.00" y="890.40" font-size="13.9" text-anchor="middle" fill="#2f2f2f">Mediated</text>
<text x="557.50" y="939.40" font-size="13.9" text-anchor="middle" fill="#2f2f2f">Alanine</text>
<text x="636.50" y="939.40" font-size="13.9" text-anchor="middle" fill="#2f2f2f">-1.669*</text>
<text x="719.00" y="939.40" font-size="13.9" text-anchor="middle" fill="#2f2f2f">BHBA</text>
<text x="595.63" y="854.53" font-size="13.9" text-anchor="middle" fill="#2f2f2f" transform="rotate(-53.41 595.63 854.53)">0.261*</text>
<text x="688.42" y="856.63" font-size="13.9" text-anchor="middle" fill="#2f2f2f" transform="rotate(59.77 688.42 856.63)">0.600*</text>
<line x1="865.70" y1="815.50" x2="807.54" y2="893.83" stroke="#d8392b" stroke-width="2.3"/>
<path d="M802.00 901.30 L804.95 887.93 L807.54 893.83 L813.95 894.60 Z" fill="#d8392b"/>
<line x1="890.10" y1="815.80" x2="936.82" y2="895.96" stroke="#b82a2c" stroke-width="2.3"/>
<path d="M941.50 904.00 L930.37 896.02 L936.82 895.96 L940.04 890.38 Z" fill="#b82a2c"/>
<line x1="811.10" y1="915.30" x2="923.80" y2="915.30" stroke="#1fa3d3" stroke-width="2.3"/>
<path d="M933.10 915.30 L920.60 920.90 L923.80 915.30 L920.60 909.70 Z" fill="#1fa3d3"/>
<circle cx="876.5" cy="804.0" r="6.7" fill="#3f4775"/>
<circle cx="794.0" cy="915.0" r="6.7" fill="#f47c72"/>
<circle cx="949.0" cy="915.0" r="6.7" fill="#f6a431"/>
<text x="876.00" y="789.80" font-size="13.9" text-anchor="middle" fill="#2f2f2f">Chao1</text>
<text x="880.00" y="874.00" font-size="13.9" text-anchor="middle" fill="#2f2f2f">45.80%</text>
<text x="880.00" y="890.40" font-size="13.9" text-anchor="middle" fill="#2f2f2f">Mediated</text>
<text x="791.00" y="939.40" font-size="13.9" text-anchor="middle" fill="#2f2f2f">Arginine</text>
<text x="874.00" y="939.40" font-size="13.9" text-anchor="middle" fill="#2f2f2f">-0.669*</text>
<text x="954.00" y="939.40" font-size="13.9" text-anchor="middle" fill="#2f2f2f">BHBA</text>
<text x="828.63" y="854.53" font-size="13.9" text-anchor="middle" fill="#2f2f2f" transform="rotate(-53.41 828.63 854.53)">0.411*</text>
<text x="921.42" y="856.63" font-size="13.9" text-anchor="middle" fill="#2f2f2f" transform="rotate(59.77 921.42 856.63)">0.600*</text>
<line x1="162.30" y1="993.30" x2="104.14" y2="1071.63" stroke="#1fa3d3" stroke-width="2.3"/>
<path d="M98.60 1079.10 L101.55 1065.73 L104.14 1071.63 L110.55 1072.40 Z" fill="#1fa3d3"/>
<line x1="186.70" y1="993.60" x2="233.42" y2="1073.76" stroke="#d8392b" stroke-width="2.3"/>
<path d="M238.10 1081.80 L226.97 1073.82 L233.42 1073.76 L236.64 1068.18 Z" fill="#d8392b"/>
<line x1="107.70" y1="1092.60" x2="220.40" y2="1092.60" stroke="#1fa3d3" stroke-width="2.3"/>
<path d="M229.70 1092.60 L217.20 1098.20 L220.40 1092.60 L217.20 1087.00 Z" fill="#1fa3d3"/>
<circle cx="173.1" cy="981.8" r="6.7" fill="#3f4775"/>
<circle cx="90.4" cy="1092.3" r="6.7" fill="#f47c72"/>
<circle cx="245.8" cy="1092.3" r="6.7" fill="#f6a431"/>
<text x="173.00" y="967.60" font-size="13.9" text-anchor="middle" fill="#2f2f2f">Chao1</text>
<text x="175.40" y="1051.80" font-size="13.9" text-anchor="middle" fill="#2f2f2f">36.89%</text>
<text x="175.40" y="1068.20" font-size="13.9" text-anchor="middle" fill="#2f2f2f">Mediated</text>
<text x="91.40" y="1116.70" font-size="13.9" text-anchor="middle" fill="#2f2f2f">Propionate</text>
<text x="174.00" y="1116.70" font-size="13.9" text-anchor="middle" fill="#2f2f2f">-9.755**</text>
<text x="251.00" y="1116.70" font-size="13.9" text-anchor="middle" fill="#2f2f2f">BHBA</text>
<text x="125.23" y="1032.33" font-size="13.9" text-anchor="middle" fill="#2f2f2f" transform="rotate(-53.41 125.23 1032.33)">-0.029*</text>
<text x="218.02" y="1034.43" font-size="13.9" text-anchor="middle" fill="#2f2f2f" transform="rotate(59.77 218.02 1034.43)">0.600*</text>
<line x1="402.70" y1="993.30" x2="344.54" y2="1071.63" stroke="#d8392b" stroke-width="2.3"/>
<path d="M339.00 1079.10 L341.95 1065.73 L344.54 1071.63 L350.95 1072.40 Z" fill="#d8392b"/>
<line x1="427.10" y1="993.60" x2="473.82" y2="1073.76" stroke="#d8392b" stroke-width="2.3"/>
<path d="M478.50 1081.80 L467.37 1073.82 L473.82 1073.76 L477.04 1068.18 Z" fill="#d8392b"/>
<line x1="348.10" y1="1092.60" x2="460.80" y2="1092.60" stroke="#d8392b" stroke-width="2.3"/>
<path d="M470.10 1092.60 L457.60 1098.20 L460.80 1092.60 L457.60 1087.00 Z" fill="#d8392b"/>
<circle cx="413.5" cy="981.8" r="6.7" fill="#3f4775"/>
<circle cx="331.3" cy="1092.3" r="6.7" fill="#f47c72"/>
<circle cx="484.3" cy="1092.3" r="6.7" fill="#f6a431"/>
<text x="414.00" y="967.60" font-size="13.9" text-anchor="middle" fill="#2f2f2f">Chao1</text>
<text x="415.00" y="1051.80" font-size="13.9" text-anchor="middle" fill="#2f2f2f">64.13%</text>
<text x="415.00" y="1068.20" font-size="13.9" text-anchor="middle" fill="#2f2f2f">Mediated</text>
<text x="325.00" y="1116.70" font-size="13.9" text-anchor="middle" fill="#2f2f2f">Glycine</text>
<text x="411.60" y="1119.20" font-size="13.9" text-anchor="middle" fill="#2f2f2f">1.264*</text>
<text x="490.40" y="1116.70" font-size="13.9" text-anchor="middle" fill="#2f2f2f">BHBA</text>
<text x="365.63" y="1032.33" font-size="13.9" text-anchor="middle" fill="#2f2f2f" transform="rotate(-53.41 365.63 1032.33)">0.383*</text>
<text x="458.42" y="1034.43" font-size="13.9" text-anchor="middle" fill="#2f2f2f" transform="rotate(59.77 458.42 1034.43)">0.600*</text>
<line x1="638.20" y1="992.50" x2="580.04" y2="1070.83" stroke="#d8392b" stroke-width="2.3"/>
<path d="M574.50 1078.30 L577.45 1064.93 L580.04 1070.83 L586.45 1071.60 Z" fill="#d8392b"/>
<line x1="662.60" y1="992.80" x2="709.32" y2="1072.96" stroke="#1fa3d3" stroke-width="2.3"/>
<path d="M714.00 1081.00 L702.87 1073.02 L709.32 1072.96 L712.54 1067.38 Z" fill="#1fa3d3"/>
<line x1="583.60" y1="1091.80" x2="696.30" y2="1091.80" stroke="#1fa3d3" stroke-width="2.3"/>
<path d="M705.60 1091.80 L693.10 1097.40 L696.30 1091.80 L693.10 1086.20 Z" fill="#1fa3d3"/>
<circle cx="649.0" cy="981.0" r="6.7" fill="#3f4775"/>
<circle cx="567.5" cy="1091.5" r="6.7" fill="#f47c72"/>
<circle cx="722.5" cy="1091.5" r="6.7" fill="#f6a431"/>
<text x="651.50" y="966.80" font-size="13.9" text-anchor="middle" fill="#2f2f2f">Shannon</text>
<text x="651.00" y="1051.00" font-size="13.9" text-anchor="middle" fill="#2f2f2f">100%</text>
<text x="651.00" y="1067.40" font-size="13.9" text-anchor="middle" fill="#2f2f2f">Mediated</text>
<text x="571.00" y="1115.90" font-size="13.9" text-anchor="middle" fill="#2f2f2f">Propionate</text>
<text x="654.00" y="1118.40" font-size="13.9" text-anchor="middle" fill="#2f2f2f">-9.755**</text>
<text x="727.50" y="1115.90" font-size="13.9" text-anchor="middle" fill="#2f2f2f">BHBA</text>
<text x="601.13" y="1031.53" font-size="13.9" text-anchor="middle" fill="#2f2f2f" transform="rotate(-53.41 601.13 1031.53)">0.019*</text>
<text x="693.92" y="1033.63" font-size="13.9" text-anchor="middle" fill="#2f2f2f" transform="rotate(59.77 693.92 1033.63)">-0.178</text>
<line x1="880.70" y1="992.50" x2="822.54" y2="1070.83" stroke="#d8392b" stroke-width="2.3"/>
<path d="M817.00 1078.30 L819.95 1064.93 L822.54 1070.83 L828.95 1071.60 Z" fill="#d8392b"/>
<line x1="905.10" y1="992.80" x2="951.82" y2="1072.96" stroke="#1fa3d3" stroke-width="2.3"/>
<path d="M956.50 1081.00 L945.37 1073.02 L951.82 1072.96 L955.04 1067.38 Z" fill="#1fa3d3"/>
<line x1="826.10" y1="1092.30" x2="938.80" y2="1092.30" stroke="#d8392b" stroke-width="2.3"/>
<path d="M948.10 1092.30 L935.60 1097.90 L938.80 1092.30 L935.60 1086.70 Z" fill="#d8392b"/>
<circle cx="891.5" cy="981.0" r="6.7" fill="#3f4775"/>
<circle cx="808.5" cy="1092.0" r="6.7" fill="#f47c72"/>
<circle cx="963.5" cy="1092.0" r="6.7" fill="#f6a431"/>
<text x="893.00" y="966.80" font-size="13.9" text-anchor="middle" font-style="italic" fill="#2f2f2f">UBA1066</text>
<text x="892.50" y="1051.00" font-size="13.9" text-anchor="middle" fill="#2f2f2f">100%</text>
<text x="892.50" y="1067.40" font-size="13.9" text-anchor="middle" fill="#2f2f2f">Mediated</text>
<text x="807.50" y="1116.40" font-size="13.9" text-anchor="middle" fill="#2f2f2f">Propionate</text>
<text x="893.00" y="1116.40" font-size="13.9" text-anchor="middle" fill="#2f2f2f">13.001**</text>
<text x="963.50" y="1116.40" font-size="13.9" text-anchor="middle" fill="#2f2f2f">GLU</text>
<text x="843.63" y="1031.53" font-size="13.9" text-anchor="middle" fill="#2f2f2f" transform="rotate(-53.41 843.63 1031.53)">0.027**</text>
<text x="936.42" y="1033.63" font-size="13.9" text-anchor="middle" fill="#2f2f2f" transform="rotate(59.77 936.42 1033.63)">-0.156</text>
<line x1="163.20" y1="1169.30" x2="105.04" y2="1247.63" stroke="#1fa3d3" stroke-width="2.3"/>
<path d="M99.50 1255.10 L102.45 1241.73 L105.04 1247.63 L111.45 1248.40 Z" fill="#1fa3d3"/>
<line x1="187.60" y1="1169.60" x2="234.32" y2="1249.76" stroke="#1fa3d3" stroke-width="2.3"/>
<path d="M239.00 1257.80 L227.87 1249.82 L234.32 1249.76 L237.54 1244.18 Z" fill="#1fa3d3"/>
<line x1="108.60" y1="1269.10" x2="221.30" y2="1269.10" stroke="#d8392b" stroke-width="2.3"/>
<path d="M230.60 1269.10 L218.10 1274.70 L221.30 1269.10 L218.10 1263.50 Z" fill="#d8392b"/>
<circle cx="174.0" cy="1157.8" r="6.7" fill="#3f4775"/>
<circle cx="91.4" cy="1268.8" r="6.7" fill="#f47c72"/>
<circle cx="246.3" cy="1268.8" r="6.7" fill="#f6a431"/>
<text x="175.00" y="1143.60" font-size="13.9" text-anchor="middle" fill="#2f2f2f">Chao1</text>
<text x="177.80" y="1227.80" font-size="13.9" text-anchor="middle" fill="#2f2f2f">100%</text>
<text x="177.80" y="1244.20" font-size="13.9" text-anchor="middle" fill="#2f2f2f">Mediated</text>
<text x="92.80" y="1293.20" font-size="13.9" text-anchor="middle" fill="#2f2f2f">Propionate</text>
<text x="177.30" y="1293.20" font-size="13.9" text-anchor="middle" fill="#2f2f2f">13.001**</text>
<text x="247.20" y="1293.20" font-size="13.9" text-anchor="middle" fill="#2f2f2f">GLU</text>
<text x="126.13" y="1208.33" font-size="13.9" text-anchor="middle" fill="#2f2f2f" transform="rotate(-53.41 126.13 1208.33)">-0.029*</text>
<text x="218.92" y="1210.43" font-size="13.9" text-anchor="middle" fill="#2f2f2f" transform="rotate(59.77 218.92 1210.43)">-0.536</text>
<line x1="394.60" y1="1168.30" x2="336.44" y2="1246.63" stroke="#d8392b" stroke-width="2.3"/>
<path d="M330.90 1254.10 L333.85 1240.73 L336.44 1246.63 L342.85 1247.40 Z" fill="#d8392b"/>
<line x1="419.00" y1="1168.60" x2="465.72" y2="1248.76" stroke="#1fa3d3" stroke-width="2.3"/>
<path d="M470.40 1256.80 L459.27 1248.82 L465.72 1248.76 L468.94 1243.18 Z" fill="#1fa3d3"/>
<line x1="340.00" y1="1268.10" x2="452.70" y2="1268.10" stroke="#d8392b" stroke-width="2.3"/>
<path d="M462.00 1268.10 L449.50 1273.70 L452.70 1268.10 L449.50 1262.50 Z" fill="#d8392b"/>
<circle cx="405.4" cy="1156.8" r="6.7" fill="#3f4775"/>
<circle cx="323.7" cy="1267.8" r="6.7" fill="#f47c72"/>
<circle cx="478.6" cy="1267.8" r="6.7" fill="#f6a431"/>
<text x="407.80" y="1142.60" font-size="13.9" text-anchor="middle" fill="#2f2f2f">Shannon</text>
<text x="406.80" y="1226.80" font-size="13.9" text-anchor="middle" fill="#2f2f2f">100%</text>
<text x="406.80" y="1243.20" font-size="13.9" text-anchor="middle" fill="#2f2f2f">Mediated</text>
<text x="325.00" y="1292.20" font-size="13.9" text-anchor="middle" fill="#2f2f2f">Propionate</text>
<text x="404.50" y="1289.80" font-size="13.9" text-anchor="middle" fill="#2f2f2f">13.001**</text>
<text x="478.60" y="1292.20" font-size="13.9" text-anchor="middle" fill="#2f2f2f">GLU</text>
<text x="357.53" y="1207.33" font-size="13.9" text-anchor="middle" fill="#2f2f2f" transform="rotate(-53.41 357.53 1207.33)">0.019*</text>
<text x="450.32" y="1209.43" font-size="13.9" text-anchor="middle" fill="#2f2f2f" transform="rotate(59.77 450.32 1209.43)">-0.294</text>
<text x="613.20" y="1192.60" font-size="13.6" text-anchor="start" fill="#2f2f2f">Crrelations</text>
<line x1="619.20" y1="1218.80" x2="642.00" y2="1218.80" stroke="#1fa3d3" stroke-width="2.6"/>
<path d="M651.80 1218.80 L638.80 1224.70 L642.00 1218.80 L638.80 1212.90 Z" fill="#1fa3d3"/>
<text x="662.80" y="1222.20" font-size="15" text-anchor="start" fill="#2f2f2f">Negative</text>
<line x1="619.20" y1="1243.60" x2="642.00" y2="1243.60" stroke="#d8392b" stroke-width="2.6"/>
<path d="M651.80 1243.60 L638.80 1249.50 L642.00 1243.60 L638.80 1237.70 Z" fill="#d8392b"/>
<text x="662.80" y="1247.60" font-size="15" text-anchor="start" fill="#2f2f2f">Positive</text>
<text x="822.80" y="1174.20" font-size="13.5" text-anchor="start" fill="#2f2f2f">Variables</text>
<rect x="824.9" y="1193.2" width="20" height="20" fill="#464d77"/>
<text x="850.40" y="1209.60" font-size="13.8" text-anchor="start" fill="#2f2f2f">Independent variable</text>
<rect x="824.9" y="1227.2" width="20" height="19.5" fill="#f47c72"/>
<text x="847.40" y="1243.20" font-size="13.8" text-anchor="start" fill="#2f2f2f">Mediating variable</text>
<rect x="824.9" y="1263.5" width="20" height="20" fill="#f9a02b"/>
<text x="850.40" y="1279.50" font-size="13.8" text-anchor="start" fill="#2f2f2f">Dependent variable</text>
<text x="30.30" y="44.20" font-size="32" text-anchor="start" font-weight="bold" fill="#111">a</text>
<text x="481.50" y="46.70" font-size="32" text-anchor="start" font-weight="bold" fill="#111">b</text>
<text x="21.50" y="432.90" font-size="32" text-anchor="start" font-weight="bold" fill="#111">c</text>
<text x="64.50" y="794.40" font-size="32" text-anchor="start" font-weight="bold" fill="#111">d</text>
</svg></body></html>
